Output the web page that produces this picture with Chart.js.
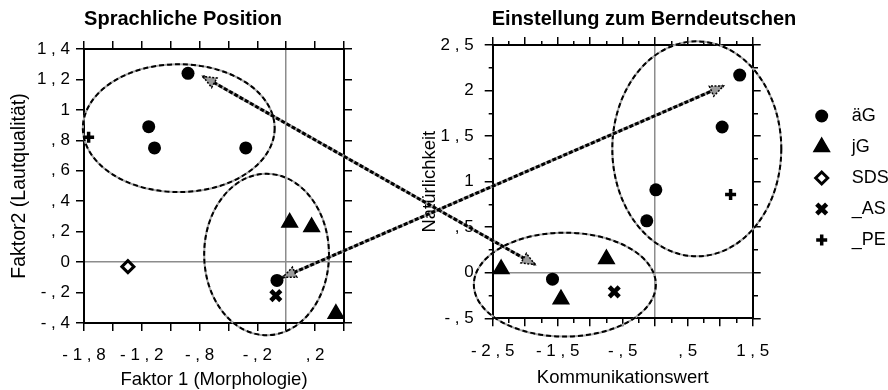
<!DOCTYPE html>
<html>
<head>
<meta charset="utf-8">
<script src="https://cdn.jsdelivr.net/npm/chart.js@4"></script>
<style>
  body { margin: 0; background: #fff; }
  #wrap { position: relative; width: 888px; height: 390px; }
  canvas { position: absolute; top: 0; }
</style>
</head>
<body>
<div id="wrap">
  <canvas id="posChart" width="366" height="390" style="left:0"></canvas>
  <canvas id="attChart" width="488" height="390" style="left:400px"></canvas>
  <canvas id="arrows" width="888" height="390" style="left:0;pointer-events:none"></canvas>
</div>
<script>
const seriesNames = ['äG', 'jG', 'SDS', '_AS', '_PE'];

// Sprachliche Position: [Faktor 1, Faktor 2]
const posAeG = [[-0.85, 1.24], [-1.19, 0.89], [-1.14, 0.75], [-0.35, 0.75], [-0.08, -0.12]];
const posJG = [[0.03, 0.26], [0.22, 0.23], [0.43, -0.34]];
const posSDS = [[-1.37, -0.03]];
const posAS = [[-0.09, -0.22]];
const posPE = [[-1.71, 0.82]];

// Einstellung zum Berndeutschen: [Kommunikationswert, Natuerlichkeit]
const attAeG = [[1.3, 2.17], [1.03, 1.6], [0.01, 0.91], [-0.13, 0.57], [-1.58, -0.07]];
const attJG = [[-2.37, 0.04], [-1.45, -0.29], [-0.75, 0.15]];
const attSDS = [];
const attAS = [[-0.63, -0.21]];
const attPE = [[1.16, 0.86]];

// group ellipses: [centre x, centre y, radius x, radius y] in data units
const posGroups = [[-0.93, 0.88, 0.83, 0.42], [-0.17, 0.05, 0.54, 0.53]];
const attGroups = [[0.64, 1.36, 1.3, 1.18], [-1.39, -0.13, 1.4, 0.57]];

// arrows: point in left chart <-> point in right chart
const arrowsPos = [[-0.72, 1.22], [-0.03, -0.10]];
const arrowsAtt = [[-1.85, 0.09], [1.05, 2.05]];

// tick labels
const posXTicks = [-1.75, -1.25, -0.75, -0.25, 0.25];
const posXLabels = ['-1,8', '-1,2', '-,8', '-,2', ',2'];
const posYTicks = [-0.4, -0.2, 0, 0.2, 0.4, 0.6, 0.8, 1, 1.2, 1.4];
const posYLabels = ['-,4', '-,2', '0', ',2', ',4', ',6', ',8', '1', '1,2', '1,4'];
const attXTicks = [-2.5, -1.5, -0.5, 0.5, 1.5];
const attXLabels = ['-2,5', '-1,5', '-,5', ',5', '1,5'];
const attYTicks = [-0.5, 0, 0.5, 1, 1.5, 2, 2.5];
const attYLabels = ['-,5', '0', ',5', '1', '1,5', '2', '2,5'];

Chart.defaults.font.family = "'Liberation Sans', Arial, sans-serif";
Chart.defaults.color = '#000';

const markers = [
    { pointStyle: 'circle', radius: 6.5, bg: '#000', bw: 0 },
    { pointStyle: 'triangle', radius: 9, bg: '#000', bw: 1.5 },
    { pointStyle: 'rectRot', radius: 6, bg: '#fff', bw: 3 },
    { pointStyle: 'crossRot', radius: 7, bg: '#000', bw: 4.5 },
    { pointStyle: 'cross', radius: 5.5, bg: '#000', bw: 3.5 }
];

function makeDatasets(series) {
    return series.map((pts, i) => ({
        label: seriesNames[i],
        data: pts.map(p => ({ x: p[0], y: p[1] })),
        pointStyle: markers[i].pointStyle,
        pointRadius: markers[i].radius,
        pointBackgroundColor: markers[i].bg,
        pointBorderColor: '#000',
        pointBorderWidth: markers[i].bw,
        showLine: false,
        clip: false
    }));
}

function tickLabel(values, labels) {
    return v => {
        const i = values.findIndex(t => Math.abs(t - v) < 1e-6);
        return i < 0 ? '' : labels[i].split('').join(' ');
    };
}

function zeroGrid(c) {
    return c.tick && Math.abs(c.tick.value) < 1e-9 ? '#8c8c8c' : 'rgba(0,0,0,0)';
}

function scaleSet(o) {
    const major = v => !o.minor || Math.abs(v * 2 - Math.round(v * 2)) < 1e-6;
    const dashIn = c => major(c.tick.value) ? [] : [4, 100];        // tick drawn from axis outwards
    const dashOut = c => major(c.tick.value) ? [] : [0, 4, 4, 100]; // tick drawn towards axis
    const border = { color: '#000', width: 2 };
    const grid = (dash, onArea) => ({
        drawOnChartArea: onArea, color: zeroGrid, lineWidth: 1.5,
        tickColor: '#000', tickWidth: 1.5, tickLength: 8, tickBorderDash: dash
    });
    return {
        x: {
            type: 'linear', position: 'bottom', min: o.xMin, max: o.xMax, border, grid: grid(dashIn, true),
            ticks: { stepSize: o.xStep, autoSkip: false, maxRotation: 0, padding: o.xPad, font: { size: 17 }, callback: tickLabel(o.xTicks, o.xLabels) },
            title: { display: true, text: o.xTitle, font: { size: 18.5, lineHeight: 1 }, padding: { top: 0, bottom: o.xTitleBottom } },
            afterFit: s => { s.height = o.bottomH; }
        },
        x2: {
            type: 'linear', position: 'top', min: o.xMin, max: o.xMax, border, grid: grid(dashOut, false),
            ticks: { stepSize: o.xStep, display: false },
            afterFit: s => { s.height = o.topH; }
        },
        y: {
            type: 'linear', position: 'left', min: o.yMin, max: o.yMax, border, grid: grid(dashOut, true),
            ticks: { stepSize: o.yStep, autoSkip: false, padding: o.yPad, font: { size: 17 }, callback: tickLabel(o.yTicks, o.yLabels) },
            title: { display: true, text: o.yTitle, font: { size: o.yTitleSize, lineHeight: 1 }, padding: { top: o.yTitleLeft, bottom: 0 } },
            afterFit: s => { s.width = o.leftW; }
        },
        y2: {
            type: 'linear', position: 'right', min: o.yMin, max: o.yMax, border, grid: grid(dashIn, false),
            ticks: { stepSize: o.yStep, display: false },
            afterFit: s => { s.width = o.rightW; }
        }
    };
}

function ellipsePlugin(groups) {
    return {
        id: 'groups',
        beforeDatasetsDraw(chart) {
            const { ctx, scales: { x, y } } = chart;
            ctx.save();
            groups.forEach(g => {
                const cx = x.getPixelForValue(g[0]);
                const cy = y.getPixelForValue(g[1]);
                const rx = Math.abs(x.getPixelForValue(g[0] + g[2]) - cx);
                const ry = Math.abs(y.getPixelForValue(g[1] + g[3]) - cy);
                ctx.beginPath();
                ctx.ellipse(cx, cy, rx, ry, 0, 0, Math.PI * 2);
                ctx.lineWidth = 2;
                ctx.setLineDash([]);
                ctx.strokeStyle = '#a8a8a8';
                ctx.stroke();
                ctx.setLineDash([5, 3]);
                ctx.strokeStyle = '#000';
                ctx.stroke();
            });
            ctx.restore();
        }
    };
}

const sideLegend = {
    id: 'sideLegend',
    afterDraw(chart) {
        const ctx = chart.ctx;
        const mx = chart.chartArea.right + 69;
        const tx = chart.chartArea.right + 99;
        ctx.save();
        seriesNames.forEach((name, i) => {
            const yy = chart.chartArea.top + 71 + i * 31;
            const m = markers[i];
            ctx.fillStyle = m.bg;
            ctx.strokeStyle = '#000';
            ctx.lineWidth = m.bw;
            Chart.helpers.drawPoint(ctx, { pointStyle: m.pointStyle, radius: m.radius, borderWidth: m.bw, rotation: 0 }, mx, yy);
            ctx.fillStyle = '#000';
            ctx.font = "18px 'Liberation Sans', Arial, sans-serif";
            ctx.textBaseline = 'middle';
            ctx.fillText(name, tx, yy);
        });
        ctx.restore();
    }
};

const posChart = new Chart(document.getElementById('posChart'), {
    type: 'scatter',
    data: { datasets: makeDatasets([posAeG, posJG, posSDS, posAS, posPE]) },
    options: {
        responsive: false,
        animation: false,
        events: [],
        layout: { padding: 0 },
        plugins: {
            legend: { display: false },
            tooltip: { enabled: false },
            title: { display: true, text: 'Sprachliche Position', font: { size: 20, weight: 'bold' }, padding: { top: 7, bottom: 8 } }
        },
        scales: scaleSet({
            xMin: -1.75, xMax: 0.5, xStep: 0.25, yMin: -0.4, yMax: 1.4, yStep: 0.2,
            xTicks: posXTicks, xLabels: posXLabels, yTicks: posYTicks, yLabels: posYLabels,
            xTitle: 'Faktor 1 (Morphologie)', yTitle: 'Faktor2 (Lautqualität)', yTitleSize: 19.5,
            xPad: 14, yPad: 6, xTitleBottom: 1, yTitleLeft: 10,
            bottomH: 67, topH: 10, leftW: 84, rightW: 22, minor: false
        })
    },
    plugins: [ellipsePlugin(posGroups)]
});

const attChart = new Chart(document.getElementById('attChart'), {
    type: 'scatter',
    data: { datasets: makeDatasets([attAeG, attJG, attSDS, attAS, attPE]) },
    options: {
        responsive: false,
        animation: false,
        events: [],
        layout: { padding: 0 },
        plugins: {
            legend: { display: false },
            tooltip: { enabled: false },
            title: { display: true, text: 'Einstellung zum Berndeutschen', font: { size: 20, weight: 'bold' }, padding: { top: 7, bottom: 4 } }
        },
        scales: scaleSet({
            xMin: -2.5, xMax: 1.5, xStep: 0.25, yMin: -0.5, yMax: 2.5, yStep: 0.25,
            xTicks: attXTicks, xLabels: attXLabels, yTicks: attYTicks, yLabels: attYLabels,
            xTitle: 'Kommunikationswert', yTitle: 'Natürlichkeit', yTitleSize: 18.5,
            xPad: 15, yPad: 11, xTitleBottom: 3, yTitleLeft: 21,
            bottomH: 71.7, topH: 10, leftW: 92.7, rightW: 135.3, minor: true
        })
    },
    plugins: [ellipsePlugin(attGroups), sideLegend]
});

function arrowHead(ctx, tip, from) {
    const ang = Math.atan2(tip[1] - from[1], tip[0] - from[0]);
    const len = 13, half = 5.5;
    const bx = tip[0] - Math.cos(ang) * len;
    const by = tip[1] - Math.sin(ang) * len;
    ctx.beginPath();
    ctx.moveTo(tip[0], tip[1]);
    ctx.lineTo(bx + Math.sin(ang) * half, by - Math.cos(ang) * half);
    ctx.lineTo(bx - Math.sin(ang) * half, by + Math.cos(ang) * half);
    ctx.closePath();
    ctx.fillStyle = '#9a9a9a';
    ctx.fill();
    ctx.setLineDash([2, 1.5]);
    ctx.strokeStyle = '#000';
    ctx.lineWidth = 1.5;
    ctx.stroke();
}

function drawArrows() {
    const ctx = document.getElementById('arrows').getContext('2d');
    const offPos = 0, offAtt = 400;
    arrowsPos.forEach((p, i) => {
        const q = arrowsAtt[i];
        const a = [offPos + posChart.scales.x.getPixelForValue(p[0]), posChart.scales.y.getPixelForValue(p[1])];
        const b = [offAtt + attChart.scales.x.getPixelForValue(q[0]), attChart.scales.y.getPixelForValue(q[1])];
        ctx.beginPath();
        ctx.moveTo(a[0], a[1]);
        ctx.lineTo(b[0], b[1]);
        ctx.lineWidth = 3;
        ctx.setLineDash([]);
        ctx.strokeStyle = '#a0a0a0';
        ctx.stroke();
        ctx.setLineDash([4, 2]);
        ctx.strokeStyle = '#000';
        ctx.stroke();
        arrowHead(ctx, a, b);
        arrowHead(ctx, b, a);
    });
}

drawArrows();
</script>
</body>
</html>
